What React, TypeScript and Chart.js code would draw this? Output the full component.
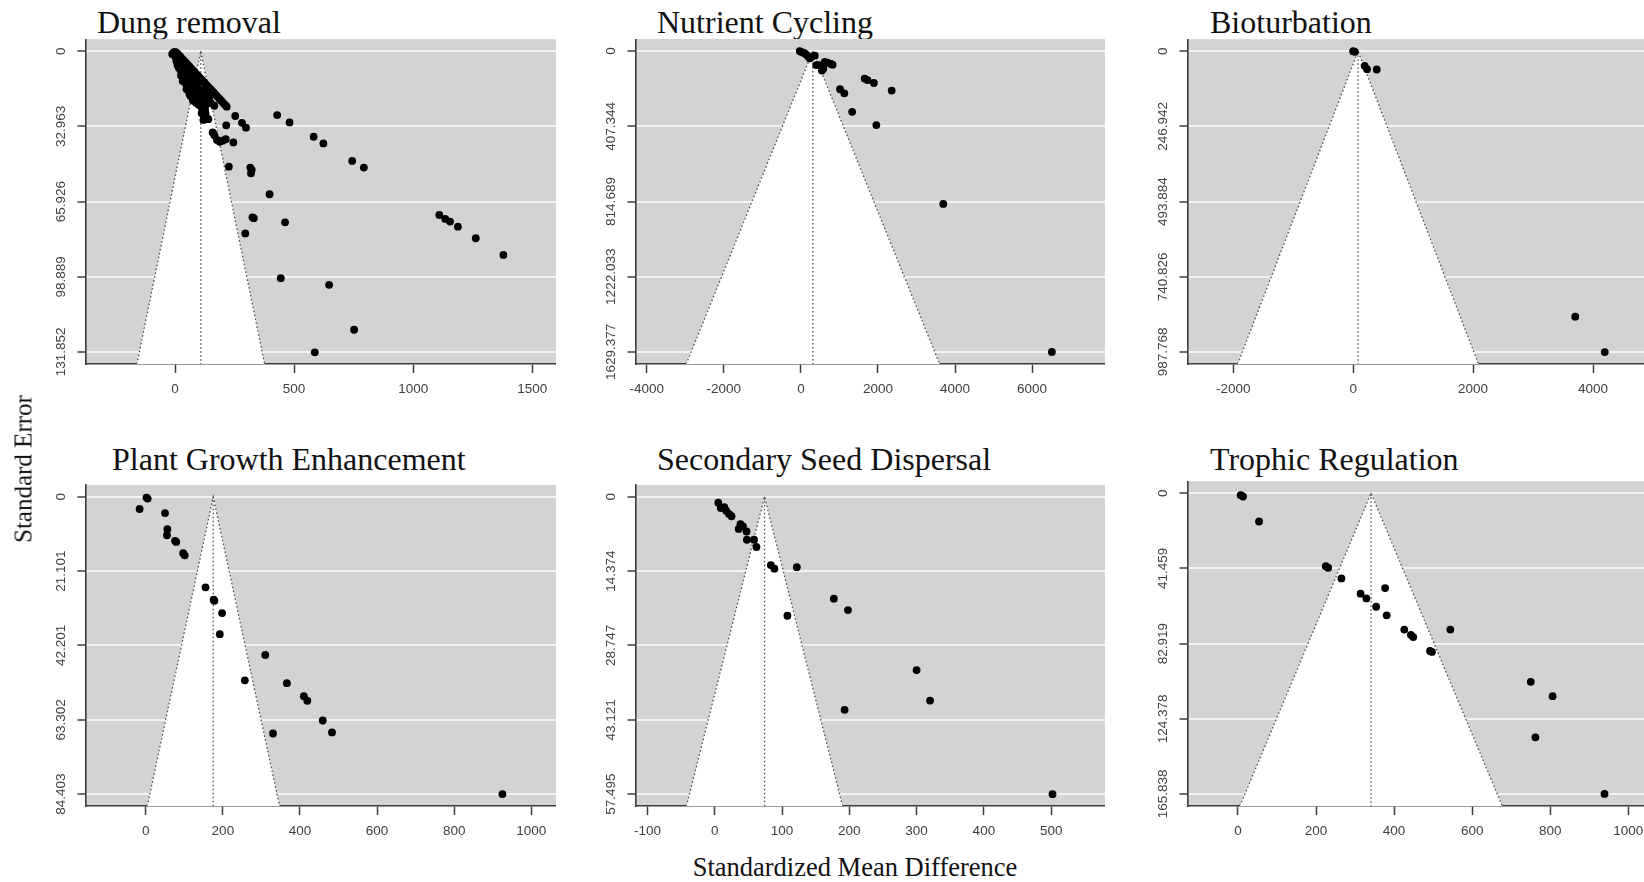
import React, { useEffect, useRef } from "react";
import { Chart, registerables } from "chart.js";

Chart.register(...registerables);

// ---------------- DATA ----------------
const panelTitles = [
  "Dung removal",
  "Nutrient Cycling",
  "Bioturbation",
  "Plant Growth Enhancement",
  "Secondary Seed Dispersal",
  "Trophic Regulation",
];

// Dung removal
const dungSMD = [
  -6, -12, 0, 5, 10, 16, 22, 28, 34, 40, 47, 54, 61, 68, 75, 82, 90, 98, 106, 114, 122, 130, 138, 146, 154, 162, 170, 178, 186, 194, 202, 210, 217,
  -8, 2, 8, -3, 4, 12, 6, 14, 20, 10, 25, 30, 15, 22, 35, 45, 28, 55, 25, 35, 48, 60, 70, 40, 32, 45, 58, 72, 85, 95, 50, 48, 62, 75, 88, 100, 115, 60, 65, 80, 95, 110, 125, 140, 75, 88, 100, 118, 132, 150, 165, 92,
  87, 105, 143, 113, 128, 135, 120, 126, 112, 140, 119, 98, 119, 133, 98,
  158, 165, 176, 188, 200, 213, 245,
  253, 281, 298, 215, 429, 481, 582, 623, 744, 793, 226, 316, 319, 322, 397, 325, 331, 462, 295, 1110, 1135, 1155, 1188, 1263, 1379, 444, 647, 752, 587,
];
const dungSE = [
  0.5, 1.2, 0.3, 0.6, 1.1, 1.7, 2.4, 3.1, 3.8, 4.5, 5.2, 6.0, 6.8, 7.6, 8.4, 9.2, 10.0, 10.9, 11.8, 12.7, 13.6, 14.5, 15.4, 16.3, 17.2, 18.1, 19.0, 19.9, 20.8, 21.7, 22.6, 23.5, 24.3,
  0.9, 1.6, 2.3, 1.8, 3.0, 3.4, 4.3, 4.9, 5.6, 5.9, 4.2, 6.3, 7.1, 8.1, 7.6, 8.7, 9.1, 8.4, 10.6, 11.3, 10.1, 11.6, 10.7, 12.4, 13.1, 14.1, 13.6, 14.7, 13.3, 15.1, 15.6, 16.6, 17.3, 16.1, 17.9, 16.9, 17.6, 18.6, 19.6, 20.3, 19.1, 20.6, 19.9, 21.1, 21.6, 22.6, 23.6, 22.1, 23.3, 22.6, 23.9, 21.2,
  20.6, 20.0, 20.7, 25.1, 27.3, 29.5, 26.3, 25.7, 27.2, 29.8, 30.1, 22.0, 16.9, 18.4, 19.1,
  35.6, 36.8, 38.9, 39.7, 39.2, 38.6, 40.0,
  28.4, 31.4, 33.5, 32.5, 28.0, 31.2, 37.5, 40.4, 48.1, 51.0, 50.6, 51.0, 53.5, 52.0, 62.7, 72.8, 73.2, 75.0, 79.9, 71.8, 73.5, 74.7, 76.9, 82.0, 89.3, 99.5, 102.4, 122.1, 132.0,
];
const dungXTicks = [0, 500, 1000, 1500];
const dungYTicks = [0, 32.963, 65.926, 98.889, 131.852];
const dungYLabels = ["0", "32.963", "65.926", "98.889", "131.852"];

// Nutrient cycling
const nutSMD = [-30, 0, 65, 120, 176, 231, 277, 360, 397, 471, 545, 582, 619, 693, 776, 822, 1016, 1127, 1654, 1727, 1894, 2356, 1330, 1958, 3695, 6513];
const nutSE = [0, 4, 9, 16, 27, 40, 31, 25, 76, 76, 106, 94, 59, 63, 70, 74, 207, 229, 149, 157, 173, 214, 329, 401, 828, 1629];
const nutXTicks = [-4000, -2000, 0, 2000, 4000, 6000];
const nutYTicks = [0, 407.344, 814.689, 1222.033, 1629.377];
const nutYLabels = ["0", "407.344", "814.689", "1222.033", "1629.377"];

// Bioturbation
const bioSMD = [0, 30, 191, 231, 393, 3703, 4195];
const bioSE = [0, 2, 48, 59, 60, 872, 988];
const bioXTicks = [-2000, 0, 2000, 4000];
const bioYTicks = [0, 246.942, 493.884, 740.826, 987.768];
const bioYLabels = ["0", "246.942", "493.884", "740.826", "987.768"];

// Plant growth enhancement
const plantSMD = [2, 5, -16, 50, 56, 55, 76, 79, 97, 101, 155, 176, 178, 198, 192, 310, 257, 366, 410, 419, 459, 483, 330, 925];
const plantSE = [0.2, 0.5, 3.45, 4.6, 9.2, 10.9, 12.5, 12.8, 16.0, 16.6, 25.7, 29.2, 29.5, 33.0, 39.0, 44.9, 52.1, 52.9, 56.6, 57.9, 63.5, 66.9, 67.2, 84.4];
const plantXTicks = [0, 200, 400, 600, 800, 1000];
const plantYTicks = [0, 21.101, 42.201, 63.302, 84.403];
const plantYLabels = ["0", "21.101", "42.201", "63.302", "84.403"];

// Secondary seed dispersal
const seedSMD = [5.3, 9, 14.3, 17, 21.2, 25, 38.2, 42, 35.6, 47.3, 47.8, 58.4, 62, 83.4, 88.7, 122, 177, 198, 108, 300, 320, 193, 502];
const seedSE = [1.14, 2.16, 2.0, 2.67, 3.3, 3.75, 5.3, 5.7, 6.2, 6.7, 8.3, 8.3, 9.7, 13.2, 13.9, 13.6, 19.7, 21.9, 23.0, 33.5, 39.4, 41.2, 57.5];
const seedXTicks = [-100, 0, 100, 200, 300, 400, 500];
const seedYTicks = [0, 14.374, 28.747, 43.121, 57.495];
const seedYLabels = ["0", "14.374", "28.747", "43.121", "57.495"];

// Trophic regulation
const trophSMD = [7, 13, 54, 225, 231, 265, 377, 314, 329, 354, 381, 426, 443, 449, 544, 492, 497, 750, 806, 762, 939];
const trophSE = [1.1, 1.8, 15.6, 40.2, 41.1, 47.0, 52.3, 55.4, 58.0, 62.6, 67.3, 75.2, 78.1, 79.3, 75.2, 87.0, 87.5, 104.0, 111.9, 134.6, 165.8];
const trophXTicks = [0, 200, 400, 600, 800, 1000];
const trophYTicks = [0, 41.459, 82.919, 124.378, 165.838];
const trophYLabels = ["0", "41.459", "82.919", "124.378", "165.838"];

// Pooled estimates and funnel limits at the bottom of each plot
const pooledEstimate = [108, 310, 82, 175, 74, 341];
const funnelLeftAtBottom = [-160, -2975, -1925, 4, -42, 5];
const funnelRightAtBottom = [376, 3600, 2090, 347, 190, 677];
const xAxisMin = [-374, -4280, -2754, -155, -117, -128];
const xAxisMax = [1600, 7892, 5083, 1064, 580, 1076];

const yAxisTitle = "Standard Error";
const xAxisTitle = "Standardized Mean Difference";

const panelSMD = [dungSMD, nutSMD, bioSMD, plantSMD, seedSMD, trophSMD];
const panelSE = [dungSE, nutSE, bioSE, plantSE, seedSE, trophSE];
const panelXTicks = [dungXTicks, nutXTicks, bioXTicks, plantXTicks, seedXTicks, trophXTicks];
const panelYTicks = [dungYTicks, nutYTicks, bioYTicks, plantYTicks, seedYTicks, trophYTicks];
const panelYLabels = [dungYLabels, nutYLabels, bioYLabels, plantYLabels, seedYLabels, trophYLabels];

// ---------------- LAYOUT ----------------
const COL_LEFT = [86, 636, 1188];
const COL_W = [470, 469, 470];
const ROW_TOP = [39, 481];
const PLOT_H = 325;
const Y_AXIS_W = 60;
const X_AXIS_H = 44;
const TICK_LEN = 8.5;
const Y_LABEL_OFFSET = 25;
const TITLE_LEFT = [[97, 657, 1210], [112, 657, 1210]];
const TITLE_BASELINE = [32.3, 469.5];
const TITLE_SIZE = 32;

const TICK_FONT = { family: "Liberation Sans, Arial, sans-serif", size: 13.5 };
const AXIS_COLOR = "#3c3c3c";
const TEXT_COLOR = "#404040";

const plotBackground = {
  id: "plotBackground",
  beforeDraw(chart: any) {
    const { ctx, chartArea: a } = chart;
    ctx.save();
    ctx.fillStyle = "#d3d3d3";
    ctx.fillRect(a.left, a.top, a.right - a.left, a.bottom - a.top);
    ctx.restore();
  },
};

function FunnelPanel({ idx }: { idx: number }) {
  const ref = useRef<HTMLCanvasElement | null>(null);
  const row = Math.floor(idx / 3);
  const col = idx % 3;
  const width = Y_AXIS_W + COL_W[col];
  const height = PLOT_H + X_AXIS_H;
  const left = COL_LEFT[col] - Y_AXIS_W;
  const top = ROW_TOP[row];

  useEffect(() => {
    const canvas = ref.current;
    if (!canvas) return;
    const yTicks = panelYTicks[idx];
    const yLabels = panelYLabels[idx];
    const xTicks = panelXTicks[idx];
    const lastTick = yTicks[yTicks.length - 1];
    const pad = lastTick * 0.04;
    const yMin = -pad;
    const yMax = lastTick + pad;

    const mctx = document.createElement("canvas").getContext("2d")!;
    mctx.font = `${TICK_FONT.size}px ${TICK_FONT.family}`;
    const widest = Math.max(...yLabels.map((s) => mctx.measureText(s).width));
    const yPadding = Y_LABEL_OFFSET - TICK_LEN - widest / 2;

    const est = pooledEstimate[idx];
    const points = panelSMD[idx].map((x, i) => ({ x, y: panelSE[idx][i] }));

    const chart = new Chart(canvas, {
      type: "scatter",
      data: {
        datasets: [
          {
            label: "Studies",
            data: points,
            showLine: false,
            pointRadius: 3.9,
            pointBackgroundColor: "#000",
            pointBorderColor: "#000",
            pointBorderWidth: 0,
            order: 0,
          },
          {
            label: "Estimate",
            data: [
              { x: est, y: 0 },
              { x: est, y: yMax },
            ],
            showLine: true,
            borderColor: "#4a4a4a",
            borderWidth: 1.3,
            borderDash: [1.5, 2.5],
            pointRadius: 0,
            order: 1,
          },
          {
            label: "Funnel",
            data: [
              { x: funnelLeftAtBottom[idx], y: yMax },
              { x: est, y: 0 },
              { x: funnelRightAtBottom[idx], y: yMax },
            ],
            showLine: true,
            fill: "shape",
            backgroundColor: "#ffffff",
            borderColor: "#4a4a4a",
            borderWidth: 1.3,
            borderDash: [1.5, 2.5],
            pointRadius: 0,
            tension: 0,
            order: 2,
            clip: { left: 0, top: 0, right: 0, bottom: -1 },
          },
        ] as any,
      },
      options: {
        animation: false,
        responsive: false,
        devicePixelRatio: 1,
        events: [],
        layout: { padding: 0, autoPadding: false } as any,
        plugins: {
          legend: { display: false },
          tooltip: { enabled: false },
          title: { display: false },
        },
        scales: {
          x: {
            type: "linear",
            min: xAxisMin[idx],
            max: xAxisMax[idx],
            afterBuildTicks: (s: any) => {
              s.ticks = xTicks.map((v) => ({ value: v }));
            },
            afterFit: (s: any) => {
              s.height = X_AXIS_H;
            },
            ticks: {
              callback: (v: any) => String(v),
              autoSkip: false,
              maxRotation: 0,
              minRotation: 0,
              padding: 8.4,
              font: TICK_FONT,
              color: TEXT_COLOR,
            },
            grid: {
              drawOnChartArea: false,
              drawTicks: true,
              tickLength: 9,
              tickColor: AXIS_COLOR,
              tickWidth: 1.5,
            },
            border: { display: true, color: AXIS_COLOR, width: 1.6 },
          },
          y: {
            type: "linear",
            reverse: true,
            min: yMin,
            max: yMax,
            afterBuildTicks: (s: any) => {
              s.ticks = yTicks.map((v) => ({ value: v }));
            },
            afterFit: (s: any) => {
              s.width = Y_AXIS_W;
            },
            ticks: {
              callback: (_v: any, i: number) => yLabels[i],
              autoSkip: false,
              minRotation: 90,
              maxRotation: 90,
              crossAlign: "center",
              padding: yPadding,
              font: TICK_FONT,
              color: TEXT_COLOR,
            },
            grid: {
              color: "#f3f3f3",
              lineWidth: 2,
              drawTicks: true,
              tickLength: TICK_LEN,
              tickColor: AXIS_COLOR,
              tickWidth: 1.5,
            },
            border: { display: true, color: AXIS_COLOR, width: 1.6 },
          },
        },
      } as any,
      plugins: [plotBackground],
    });
    return () => chart.destroy();
  }, [idx]);

  return (
    <canvas
      ref={ref}
      width={width}
      height={height}
      style={{ position: "absolute", left, top, width, height }}
    />
  );
}

const serif = '"Liberation Serif", "Times New Roman", Times, serif';

export default function App() {
  return (
    <div
      style={{
        position: "fixed",
        left: 0,
        top: 0,
        width: "100vw",
        height: "100vh",
        overflow: "hidden",
        background: "#fff",
      }}
    >
      {panelTitles.map((t, i) => {
        const row = Math.floor(i / 3);
        const col = i % 3;
        return (
          <div
            key={"title" + i}
            style={{
              position: "absolute",
              left: TITLE_LEFT[row][col],
              top: TITLE_BASELINE[row] - 0.8375 * TITLE_SIZE,
              fontFamily: serif,
              fontSize: TITLE_SIZE,
              lineHeight: 1,
              color: "#111",
              whiteSpace: "nowrap",
            }}
          >
            {t}
          </div>
        );
      })}
      {panelTitles.map((_, i) => (
        <FunnelPanel key={"panel" + i} idx={i} />
      ))}
      <div
        style={{
          position: "absolute",
          left: 23,
          top: 469,
          transform: "translate(-50%, -50%) rotate(-90deg)",
          fontFamily: serif,
          fontSize: 25,
          lineHeight: 1,
          color: "#111",
          whiteSpace: "nowrap",
        }}
      >
        {yAxisTitle}
      </div>
      <div
        style={{
          position: "absolute",
          left: 855,
          top: 876 - 0.8375 * 26.5,
          transform: "translateX(-50%)",
          fontFamily: serif,
          fontSize: 26.5,
          lineHeight: 1,
          color: "#111",
          whiteSpace: "nowrap",
        }}
      >
        {xAxisTitle}
      </div>
    </div>
  );
}
